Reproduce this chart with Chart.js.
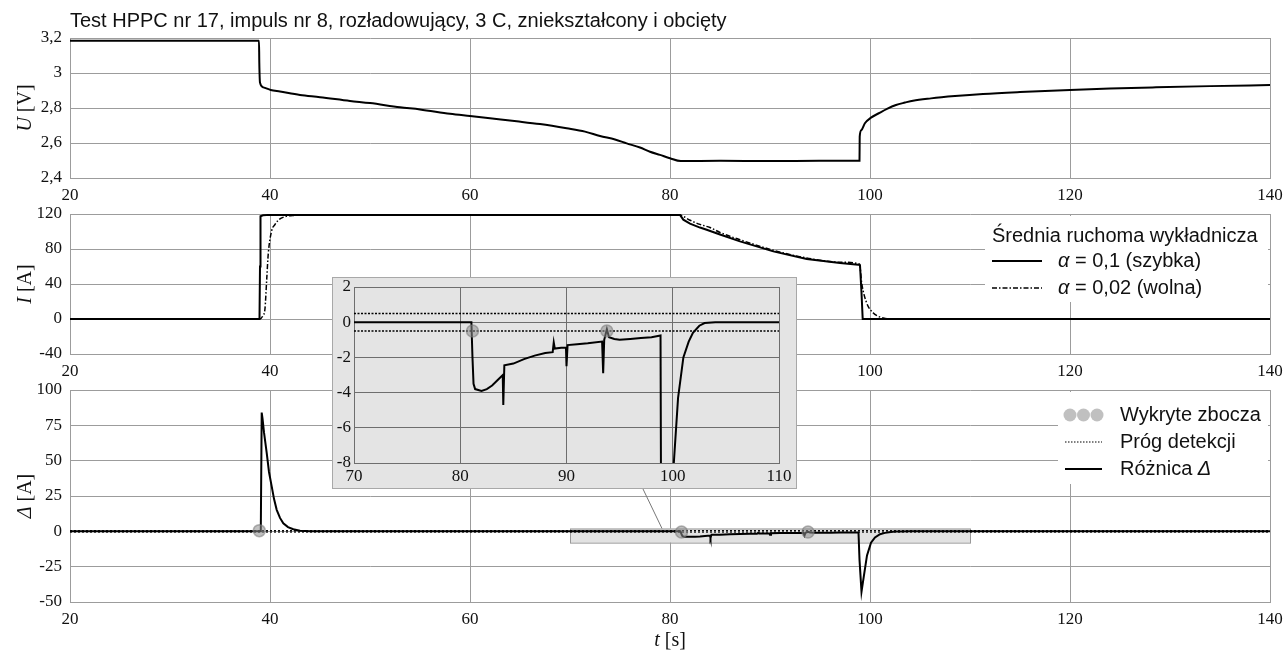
<!DOCTYPE html>
<html><head><meta charset="utf-8">
<script src="https://cdn.jsdelivr.net/npm/chart.js@4"></script>
<style>
html,body{margin:0;padding:0;background:#fff;}
#wrap{position:relative;width:1284px;height:651px;overflow:hidden;background:#fff;}
canvas{position:absolute;}
</style></head><body>
<div id="wrap">
<canvas id="cU" width="1284" height="651" style="left:0;top:0"></canvas>
<canvas id="cI" width="1284" height="651" style="left:0;top:0"></canvas>
<canvas id="cD" width="1284" height="651" style="left:0;top:0"></canvas>
<canvas id="cIn" width="465" height="212" style="left:332px;top:277px"></canvas>
</div>
<script>
// ---------------- DATA ----------------
const TITLE = 'Test HPPC nr 17, impuls nr 8, rozładowujący, 3 C, zniekształcony i obcięty';
const mainXRange = [20, 140];
const mainXStep = 20;
const uRange = [2.4, 3.2];
const uStep = 0.2;
const iRange = [-40, 120];
const iStep = 40;
const dRange = [-50, 100];
const dStep = 25;
const insetXRange = [70, 110];
const insetXStep = 10;
const insetYRange = [-8, 2];
const insetYStep = 2;

const tU = [20, 30, 38.9, 38.93, 39.0, 39.33, 40.07, 41, 43, 45, 48, 50, 53, 55, 58, 60, 62, 64.67, 67, 69.67,
  71.5, 73, 74.5, 75.67, 77, 78, 79, 80, 81.07, 85, 90, 95, 98.95, 98.97, 99.14, 99.49, 100.1, 100.88, 101.7, 102.6,
  103.5, 104.3, 106.1, 108.5, 111.3, 115, 120, 124, 128.6, 134, 140];
const uVals = [3.185, 3.184, 3.185, 3.06, 2.945, 2.918, 2.903, 2.894, 2.874, 2.862, 2.84, 2.828, 2.804, 2.792, 2.767, 2.754, 2.741, 2.724, 2.708, 2.684,
  2.665, 2.64, 2.62, 2.598, 2.574, 2.55, 2.532, 2.513, 2.497, 2.498, 2.497, 2.498, 2.499, 2.636, 2.674, 2.713, 2.745, 2.77, 2.795, 2.817,
  2.831, 2.842, 2.855, 2.868, 2.88, 2.891, 2.903, 2.911, 2.918, 2.925, 2.931];

const tIfast = [20, 30, 38.95, 39.0, 39.05, 39.3, 40, 50, 60, 70, 81.0, 81.33, 82, 83, 83.67, 85, 87, 90.33, 93.67, 97,
  98.83, 99.0, 99.15, 99.27, 100, 110, 120, 130, 140];
const iFast = [0, 0, 0, 60, 117.5, 118.5, 119, 119, 119, 119, 119, 113.5, 109, 104.5, 102, 96.5, 88.7, 77.3, 68.6, 64,
  62.1, 61.5, 30, 0, 0, 0, 0, 0, 0];

const tIslow = [20, 38.95, 39.3, 39.5, 39.67, 39.83, 40.17, 40.5, 40.83, 41.5, 42.5, 44, 60, 81.0, 81.33, 82, 83, 84, 85, 87,
  90.33, 93.67, 97, 98.95, 99.17, 99.67, 100.33, 100.8, 101.33, 102, 140];
const iSlow = [0, 0, 4, 12, 45, 75, 101, 108, 113, 117, 118.5, 119, 119, 119, 117.3, 112.9, 108.1, 104.5, 98.9, 90.6,
  78.6, 69.7, 64.9, 62.8, 41, 18.3, 6.9, 3.2, 1.1, 0, 0];

const tDelta = [20, 30, 38.9, 39.08, 39.17, 39.25, 39.4, 39.67, 39.9, 40.17, 40.4, 40.67, 41.0, 41.33, 41.8, 42.33, 43, 44, 60, 81.05,
  81.15, 81.25, 81.4, 82, 82.5, 83, 83.5, 84.0, 84.05, 84.15, 85, 86, 87, 88, 88.7, 88.8, 88.9, 89.5, 89.95, 90.0,
  90.1, 91, 92, 93.35, 93.45, 93.55, 93.8, 94.0, 94.5, 95, 96, 97, 98, 98.85, 98.95, 99.15, 99.4, 99.7, 100.1, 100.5,
  101, 101.5, 101.9, 102.5, 103, 104, 120, 140];
const delta = [0, 0, 0, 0, 84, 80, 70, 55.5, 42, 31.8, 23, 15.2, 9.5, 5.7, 3, 1.5, 0.4, 0, 0, 0,
  -2, -3.5, -3.8, -3.9, -3.8, -3.6, -3.3, -3.0, -4.7, -2.45, -2.35, -2.1, -1.9, -1.75, -1.7, -1.15, -1.5, -1.45, -1.45, -2.5,
  -1.3, -1.25, -1.2, -1.1, -2.9, -1.0, -0.4, -0.85, -0.95, -1.0, -0.95, -0.9, -0.85, -0.75, -20, -42.8, -31, -17, -8, -4.3,
  -2, -1.1, -0.6, -0.2, -0.05, 0, 0, 0];

const thresholds = [0.5, -0.5];
const edgeT = [38.93, 81.15, 93.8];
const edgeV = [0.5, -0.5, -0.5];
const connectorT = [79.2, 77.3];

const legendI = ['Średnia ruchoma wykładnicza', 'α = 0,1 (szybka)', 'α = 0,02 (wolna)'];
const legendD = ['Wykryte zbocza', 'Próg detekcji', 'Różnica Δ'];
const titleU = [['U', true], [' [V]', false]];
const titleI = [['I', true], [' [A]', false]];
const titleD = [['Δ', true], [' [A]', false]];
const titleT = [['t', true], [' [s]', false]];

// ---------------- STYLE / LAYOUT ----------------
const SERIF = '"Liberation Serif","Times New Roman",serif';
const SANS = '"Liberation Sans",Arial,sans-serif';
const GRID = '#9c9c9c';
const INK = '#111';
const W = 1284, H = 651;
const PLOT_L = 70, PLOT_R = 1270, XAXIS_H = 30;
const INSET = {left: 332, top: 277, w: 465, h: 212};
const LEG_FS = 20;

const pts = (xs, ys) => xs.map((x, i) => ({x: x, y: ys[i]}));
const flat = (xr, v) => [{x: xr[0], y: v}, {x: xr[1], y: v}];
const fmt = v => String(Number(Number(v).toFixed(2))).replace('.', ',');

function drawParts(ctx, parts, x, y, size, family, align) {
  const fontOf = it => (it ? 'italic ' : '') + size + 'px ' + family;
  let total = 0;
  const ws = parts.map(p => { ctx.font = fontOf(p[1]); const w = ctx.measureText(p[0]).width; total += w; return w; });
  let cx = align === 'center' ? x - total / 2 : (align === 'right' ? x - total : x);
  ctx.textAlign = 'left'; ctx.textBaseline = 'middle';
  parts.forEach((p, i) => { ctx.font = fontOf(p[1]); ctx.fillText(p[0], cx, y); cx += ws[i]; });
}
function greekParts(s) {
  const out = [];
  for (const ch of s) {
    const it = /[α-ωΑ-Ω]/.test(ch);
    if (out.length && out[out.length - 1][1] === it) out[out.length - 1][0] += ch; else out.push([ch, it]);
  }
  return out;
}

function scales(xr, xs, yr, ys, o) {
  const tickFont = {family: SERIF, size: o.fs};
  return {
    x: {type: 'linear', min: xr[0], max: xr[1], position: 'bottom',
      ticks: {stepSize: xs, color: INK, padding: o.xPad, font: tickFont, callback: fmt, maxRotation: 0, autoSkip: false},
      grid: {color: o.grid, lineWidth: 1, drawTicks: false},
      border: {color: o.grid, width: 1},
      afterFit: s => { s.height = o.xH; s.paddingLeft = 0; s.paddingRight = 0; }},
    y: {type: 'linear', min: yr[0], max: yr[1],
      ticks: {stepSize: ys, color: INK, padding: o.yPad, font: tickFont, callback: fmt, autoSkip: false},
      grid: {color: o.grid, lineWidth: 1, drawTicks: false},
      border: {color: o.grid, width: 1},
      afterFit: s => { s.width = o.yW; s.paddingTop = 0; s.paddingBottom = 0; }}
  };
}
const mainScaleOpts = {fs: 17, xPad: 7, yPad: 8, grid: GRID, xH: XAXIS_H, yW: PLOT_L};
const mainPadding = (top, bottom) => ({left: 0, right: W - PLOT_R, top: top, bottom: H - bottom - XAXIS_H});

const yTitle = (id, parts) => ({
  id: id,
  afterDraw(chart) {
    const {ctx, chartArea} = chart;
    ctx.save(); ctx.fillStyle = INK;
    ctx.translate(26, (chartArea.top + chartArea.bottom) / 2);
    ctx.rotate(-Math.PI / 2);
    drawParts(ctx, parts, 0, 0, 20, SERIF, 'center');
    ctx.restore();
  }
});

const baseOpts = {responsive: false, animation: false, devicePixelRatio: 1, events: [],
  plugins: {legend: {display: false}, tooltip: {enabled: false}}};
const lineDs = (data, extra) => Object.assign({type: 'line', data: data, borderColor: '#000', borderWidth: 2,
  pointRadius: 0, tension: 0, fill: false}, extra || {});

// ---------------- CHART U ----------------
new Chart(document.getElementById('cU'), {
  type: 'line',
  data: {datasets: [lineDs(pts(tU, uVals), {cubicInterpolationMode: 'monotone'})]},
  options: Object.assign({}, baseOpts, {
    layout: {padding: mainPadding(38, 178)},
    scales: scales(mainXRange, mainXStep, uRange, uStep, mainScaleOpts)
  }),
  plugins: [yTitle('ytU', titleU), {
    id: 'mainTitle',
    afterDraw(chart) {
      const ctx = chart.ctx;
      ctx.save(); ctx.fillStyle = INK; ctx.font = '20px ' + SANS;
      ctx.textAlign = 'left'; ctx.textBaseline = 'middle';
      ctx.fillText(TITLE, chart.chartArea.left, 21);
      ctx.restore();
    }
  }]
});

// ---------------- CHART I ----------------
new Chart(document.getElementById('cI'), {
  type: 'line',
  data: {datasets: [
    lineDs(pts(tIfast, iFast), {order: 0}),
    lineDs(pts(tIslow, iSlow), {order: 1, borderWidth: 1.5, borderDash: [5, 2, 1.5, 2], cubicInterpolationMode: 'monotone'})
  ]},
  options: Object.assign({}, baseOpts, {
    layout: {padding: mainPadding(214, 354)},
    scales: scales(mainXRange, mainXStep, iRange, iStep, mainScaleOpts)
  }),
  plugins: [yTitle('ytI', titleI), {
    id: 'legI',
    afterDraw(chart) {
      const ctx = chart.ctx, ca = chart.chartArea;
      const bx = ca.right - 285, by = ca.top + 2;
      ctx.save();
      ctx.fillStyle = '#fff'; ctx.fillRect(bx, by, 283, 86);
      ctx.fillStyle = INK;
      drawParts(ctx, [[legendI[0], false]], bx + 7, by + 20, LEG_FS, SANS, 'left');
      ctx.strokeStyle = '#000';
      ctx.lineWidth = 2; ctx.setLineDash([]);
      ctx.beginPath(); ctx.moveTo(bx + 7, by + 45); ctx.lineTo(bx + 57, by + 45); ctx.stroke();
      drawParts(ctx, greekParts(legendI[1]), bx + 73, by + 45, LEG_FS, SANS, 'left');
      ctx.lineWidth = 1.5; ctx.setLineDash([5, 2, 1.5, 2]);
      ctx.beginPath(); ctx.moveTo(bx + 7, by + 72); ctx.lineTo(bx + 57, by + 72); ctx.stroke();
      drawParts(ctx, greekParts(legendI[2]), bx + 73, by + 72, LEG_FS, SANS, 'left');
      ctx.restore();
    }
  }]
});

// ---------------- CHART Δ ----------------
const edgeStyle = {showLine: false, pointRadius: 6, pointBackgroundColor: 'rgba(140,140,140,0.55)',
  pointBorderColor: 'rgba(120,120,120,0.55)', pointBorderWidth: 1.5};
new Chart(document.getElementById('cD'), {
  type: 'line',
  data: {datasets: [
    lineDs(pts(edgeT, edgeV), Object.assign({order: 0}, edgeStyle)),
    lineDs(pts(tDelta, delta), {order: 1}),
    lineDs(flat(mainXRange, thresholds[0]), {order: 2, borderWidth: 1.2, borderDash: [2, 2]}),
    lineDs(flat(mainXRange, thresholds[1]), {order: 3, borderWidth: 1.2, borderDash: [2, 2]})
  ]},
  options: Object.assign({}, baseOpts, {
    layout: {padding: mainPadding(390, 602)},
    scales: scales(mainXRange, mainXStep, dRange, dStep, mainScaleOpts)
  }),
  plugins: [yTitle('ytD', titleD), {
    id: 'zoomRect',
    beforeDatasetsDraw(chart) {
      const ctx = chart.ctx, xs = chart.scales.x, ys = chart.scales.y;
      const x0 = xs.getPixelForValue(insetXRange[0]), x1 = xs.getPixelForValue(insetXRange[1]);
      const y0 = ys.getPixelForValue(insetYRange[1]), y1 = ys.getPixelForValue(insetYRange[0]);
      ctx.save();
      ctx.fillStyle = '#e2e2e2'; ctx.fillRect(x0, y0, x1 - x0, y1 - y0);
      ctx.strokeStyle = '#999'; ctx.lineWidth = 1; ctx.strokeRect(x0 + 0.5, y0 + 0.5, x1 - x0, y1 - y0);
      ctx.strokeStyle = '#777';
      ctx.beginPath();
      ctx.moveTo(xs.getPixelForValue(connectorT[0]), y0);
      ctx.lineTo(xs.getPixelForValue(connectorT[1]), INSET.top + INSET.h);
      ctx.stroke();
      ctx.restore();
    }
  }, {
    id: 'legD',
    afterDraw(chart) {
      const ctx = chart.ctx, ca = chart.chartArea;
      const bx = ca.right - 212, by = ca.top + 2;
      ctx.save();
      ctx.fillStyle = '#fff'; ctx.fillRect(bx, by, 210, 92);
      for (let k = 0; k < 3; k++) {
        ctx.beginPath(); ctx.arc(bx + 12 + 13.5 * k, by + 23, 6.5, 0, Math.PI * 2);
        ctx.fillStyle = 'rgba(140,140,140,0.55)'; ctx.fill();
      }
      ctx.fillStyle = INK;
      drawParts(ctx, greekParts(legendD[0]), bx + 62, by + 23, LEG_FS, SANS, 'left');
      ctx.strokeStyle = '#000';
      ctx.lineWidth = 1.2; ctx.setLineDash([1.5, 1.5]);
      ctx.beginPath(); ctx.moveTo(bx + 7, by + 50); ctx.lineTo(bx + 44, by + 50); ctx.stroke();
      drawParts(ctx, greekParts(legendD[1]), bx + 62, by + 50, LEG_FS, SANS, 'left');
      ctx.lineWidth = 2; ctx.setLineDash([]);
      ctx.beginPath(); ctx.moveTo(bx + 7, by + 77); ctx.lineTo(bx + 44, by + 77); ctx.stroke();
      drawParts(ctx, greekParts(legendD[2]), bx + 62, by + 77, LEG_FS, SANS, 'left');
      ctx.restore();
    }
  }, {
    id: 'xTitle',
    afterDraw(chart) {
      const ctx = chart.ctx, ca = chart.chartArea;
      ctx.save(); ctx.fillStyle = INK;
      drawParts(ctx, titleT, (ca.left + ca.right) / 2, 641, 20, SERIF, 'center');
      ctx.restore();
    }
  }]
});

// ---------------- INSET ----------------
const insetScaleOpts = {fs: 17, xPad: 3, yPad: 3, grid: '#6e6e6e', xH: 20, yW: 22};
new Chart(document.getElementById('cIn'), {
  type: 'line',
  data: {datasets: [
    lineDs(pts(edgeT, edgeV), Object.assign({order: 0}, edgeStyle)),
    lineDs(pts(tDelta, delta), {order: 1}),
    lineDs(flat(insetXRange, thresholds[0]), {order: 2, borderWidth: 1.5, borderDash: [2, 1.5]}),
    lineDs(flat(insetXRange, thresholds[1]), {order: 3, borderWidth: 1.5, borderDash: [2, 1.5]})
  ]},
  options: Object.assign({}, baseOpts, {
    layout: {padding: {left: 0, right: 18, top: 10, bottom: 6}},
    scales: scales(insetXRange, insetXStep, insetYRange, insetYStep, insetScaleOpts)
  }),
  plugins: [{
    id: 'insetBg',
    beforeDraw(chart) {
      const ctx = chart.ctx;
      ctx.save();
      ctx.fillStyle = '#e4e4e4'; ctx.fillRect(0, 0, chart.width, chart.height);
      ctx.strokeStyle = '#a8a8a8'; ctx.lineWidth = 1;
      ctx.strokeRect(0.5, 0.5, chart.width - 1, chart.height - 1);
      ctx.restore();
    }
  }]
});
</script>
</body></html>
